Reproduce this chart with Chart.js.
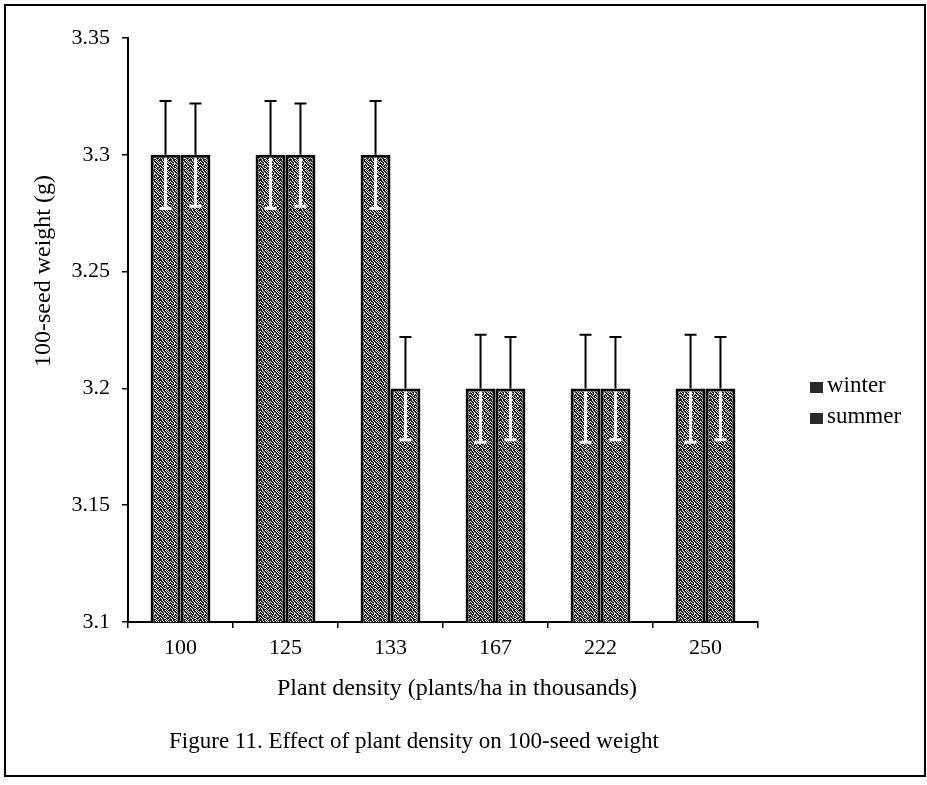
<!DOCTYPE html>
<html>
<head>
<meta charset="utf-8">
<script src="https://cdn.jsdelivr.net/npm/chart.js@4.4.1/dist/chart.umd.min.js"></script>
<style>
  html, body { margin: 0; padding: 0; background: #fff; }
  #wrap { width: 927px; height: 785px; }
</style>
</head>
<body>
<div id="wrap"><canvas id="chart" width="927" height="785"></canvas></div>
<script>
// data
var densities = ['100', '125', '133', '167', '222', '250'];
var winter = [3.3, 3.3, 3.3, 3.2, 3.2, 3.2];
var summer = [3.3, 3.3, 3.2, 3.2, 3.2, 3.2];
var winterErr = [0.023, 0.023, 0.023, 0.023, 0.023, 0.023];
var summerErr = [0.022, 0.022, 0.022, 0.022, 0.022, 0.022];
var yTicks = [3.1, 3.15, 3.2, 3.25, 3.3, 3.35];

var serif = '"Liberation Serif", "DejaVu Serif", serif';

// grey speckle fill, like the scanned bars
function makePattern() {
  var rows = [
    '1101101011',
    '0110110101',
    '1011011010',
    '1101001101',
    '0111010110',
    '1010111011',
    '1101101001',
    '0110110111',
    '1011001110',
    '1101110101',
  ];
  var c = document.createElement('canvas');
  c.width = 10;
  c.height = 10;
  var g = c.getContext('2d');
  g.fillStyle = '#e6e6e6';
  g.fillRect(0, 0, 10, 10);
  g.fillStyle = '#222';
  rows.forEach((r, y) => {
    for (var x = 0; x < 10; x++) {
      if (r[x] == '1') g.fillRect(x, y, 1, 1);
    }
  });
  return g.createPattern(c, 'repeat');
}
var fill = makePattern();

var errorBars = {
  id: 'errorBars',
  afterDatasetsDraw(chart) {
    const ctx = chart.ctx;
    const y = chart.scales.y;
    const errs = [winterErr, summerErr];
    chart.data.datasets.forEach((ds, i) => {
      const meta = chart.getDatasetMeta(i);
      meta.data.forEach((bar, j) => {
        const v = ds.data[j];
        const top = y.getPixelForValue(v + errs[i][j]);
        const bot = y.getPixelForValue(v - errs[i][j]);
        const yv = y.getPixelForValue(v);
        ctx.save();
        ctx.strokeStyle = '#000';
        ctx.lineWidth = 2;
        ctx.beginPath();
        ctx.moveTo(bar.x, yv);
        ctx.lineTo(bar.x, top);
        ctx.moveTo(bar.x - 6, top);
        ctx.lineTo(bar.x + 6, top);
        ctx.stroke();
        ctx.strokeStyle = '#fff';
        ctx.lineWidth = 3;
        ctx.beginPath();
        ctx.moveTo(bar.x, yv + 3);
        ctx.lineTo(bar.x, bot);
        ctx.moveTo(bar.x - 6, bot);
        ctx.lineTo(bar.x + 6, bot);
        ctx.stroke();
        ctx.restore();
      });
    });
  },
};

var extras = {
  id: 'extras',
  afterDraw(chart) {
    const ctx = chart.ctx;
    ctx.save();
    // frame
    ctx.strokeStyle = '#000';
    ctx.lineWidth = 2;
    ctx.strokeRect(5, 5, 920, 771);
    // axis titles
    ctx.fillStyle = '#000';
    ctx.font = '24px ' + serif;
    ctx.textAlign = 'center';
    ctx.textBaseline = 'middle';
    ctx.fillText('Plant density (plants/ha in thousands)', 457, 689);
    ctx.save();
    ctx.translate(44, 271);
    ctx.rotate(-Math.PI / 2);
    ctx.fillText('100-seed weight (g)', 0, 0);
    ctx.restore();
    // legend
    ctx.font = '23px ' + serif;
    ctx.textAlign = 'left';
    chart.data.datasets.forEach((ds, i) => {
      const yy = 386 + i * 31;
      ctx.fillStyle = '#2a2a2a';
      ctx.fillRect(810, yy - 4, 13, 11);
      ctx.fillStyle = '#000';
      ctx.fillText(ds.label, 827, yy);
    });
    // caption
    ctx.textAlign = 'center';
    ctx.fillText('Figure 11. Effect of plant density on 100-seed weight', 414, 742);
    ctx.restore();
  },
};

new Chart(document.getElementById('chart'), {
  type: 'bar',
  data: {
    labels: densities,
    datasets: [{
      label: 'winter',
      data: winter,
      backgroundColor: fill,
      borderColor: '#000',
      borderWidth: 3,
      categoryPercentage: 0.57,
      barPercentage: 1.0,
    }, {
      label: 'summer',
      data: summer,
      backgroundColor: fill,
      borderColor: '#000',
      borderWidth: 3,
      categoryPercentage: 0.57,
      barPercentage: 1.0,
    }],
  },
  options: {
    responsive: false,
    animation: false,
    layout: {
      padding: {left: 25, right: 169, top: 38, bottom: 85},
    },
    plugins: {
      legend: {display: false},
      tooltip: {enabled: false},
    },
    scales: {
      x: {
        grid: {offset: true, drawOnChartArea: false, tickLength: 6, color: '#000', lineWidth: 1.5},
        border: {color: '#000', width: 2},
        ticks: {color: '#000', font: {family: serif, size: 22}, padding: 7},
        afterFit(scale) {
          scale.height = 78;
        },
      },
      y: {
        min: 3.1,
        max: 3.35,
        afterBuildTicks(scale) {
          scale.ticks = yTicks.map((v) => ({value: v}));
        },
        grid: {drawOnChartArea: false, tickLength: 6, color: '#000', lineWidth: 1.5},
        border: {color: '#000', width: 2},
        ticks: {color: '#000', font: {family: serif, size: 22}, padding: 12,
          callback: (v) => String(+v.toFixed(2))},
        afterFit(scale) {
          scale.width = 103;
        },
      },
    },
  },
  plugins: [errorBars, extras],
});
</script>
</body>
</html>
